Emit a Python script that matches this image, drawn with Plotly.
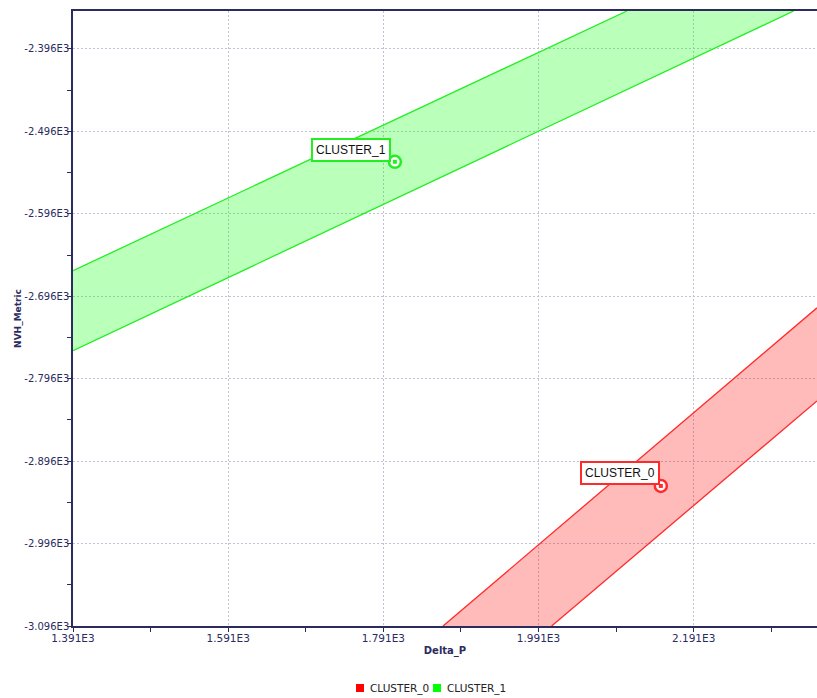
import plotly.graph_objects as go

# ---- data ----
clusters = ["CLUSTER_0", "CLUSTER_1"]
centroid_x = [2148.7, 1805.9]
centroid_y = [-2926.1, -2532.9]

# visible band region (clipped to the plot) for each cluster
band0_x = [1868, 2350, 2350, 2008]
band0_y = [-3096, -2710, -2823, -3096]
band1_x = [1391, 2105, 2320, 1391]
band1_y = [-2665, -2350, -2350, -2762]

# band edge lines
edge0_upper_x = [1868, 2350]
edge0_upper_y = [-3096, -2710]
edge0_lower_x = [2008, 2350]
edge0_lower_y = [-3096, -2823]
edge1_upper_x = [1391, 2105]
edge1_upper_y = [-2665, -2350]
edge1_lower_x = [1391, 2320]
edge1_lower_y = [-2762, -2350]

x_ticks = [1391, 1591, 1791, 1991, 2191]
x_ticktext = ["1.391E3", "1.591E3", "1.791E3", "1.991E3", "2.191E3"]
x_minor = [1491, 1691, 1891, 2091, 2291]
y_ticks = [-3096, -2996, -2896, -2796, -2696, -2596, -2496, -2396]
y_ticktext = ["-3.096E3", "-2.996E3", "-2.896E3", "-2.796E3", "-2.696E3",
              "-2.596E3", "-2.496E3", "-2.396E3"]
y_minor = [-3046, -2946, -2846, -2746, -2646, -2546, -2446]

x_range = [1391, 2350]
y_range = [-3096, -2350]

line_colors = ["#ff2a2a", "#22ee22"]
fill_colors = ["rgba(255,0,0,0.27)", "rgba(0,255,0,0.27)"]
legend_colors = ["#ff0000", "#00ff00"]
navy = "#2b2b5e"
FONT = "DejaVu Sans, Liberation Sans, Arial"

fig = go.Figure()

bands = [(band0_x, band0_y), (band1_x, band1_y)]
edges = [
    [(edge0_upper_x, edge0_upper_y), (edge0_lower_x, edge0_lower_y)],
    [(edge1_upper_x, edge1_upper_y), (edge1_lower_x, edge1_lower_y)],
]

for i, name in enumerate(clusters):
    bx, by = bands[i]
    fig.add_trace(go.Scatter(x=bx + [bx[0]], y=by + [by[0]], mode="lines",
                             fill="toself", fillcolor=fill_colors[i],
                             line=dict(width=0, color=fill_colors[i]),
                             showlegend=False, hoverinfo="skip", name=name))
    for ex, ey in edges[i]:
        fig.add_trace(go.Scatter(x=ex, y=ey, mode="lines",
                                 line=dict(color=line_colors[i], width=1.3),
                                 showlegend=False, hoverinfo="skip", name=name))

for i, name in enumerate(clusters):
    fig.add_trace(go.Scatter(x=[centroid_x[i]], y=[centroid_y[i]], mode="markers",
                             marker=dict(symbol="circle", size=12, color="white",
                                         line=dict(color=line_colors[i], width=2.5)),
                             showlegend=False, cliponaxis=False, name=name))
    fig.add_trace(go.Scatter(x=[centroid_x[i]], y=[centroid_y[i]], mode="markers",
                             marker=dict(symbol="square", size=4, color=line_colors[i]),
                             showlegend=False, cliponaxis=False, name=name))

label_shifts = [(-41, 13), (-44, 12)]
for i, name in enumerate(clusters):
    fig.add_annotation(x=centroid_x[i], y=centroid_y[i], text=name, showarrow=False,
                       xshift=label_shifts[i][0], yshift=label_shifts[i][1],
                       font=dict(family="Liberation Sans, Arial", size=12, color="#111111"),
                       bgcolor="white", bordercolor=line_colors[i], borderwidth=2,
                       borderpad=3)

# legend drawn below the plot (square swatch + text)
legend_x = [356, 433]   # px of swatch left edge
for i, name in enumerate(clusters):
    fig.add_shape(type="rect", xref="paper", yref="paper",
                  x0=(legend_x[i] - 73) / 744, x1=(legend_x[i] + 8 - 73) / 744,
                  y0=-(684 - 626) / 615, y1=-(692 - 626) / 615,
                  fillcolor=legend_colors[i], line=dict(width=0))
    fig.add_annotation(xref="paper", yref="paper",
                       x=(legend_x[i] + 12 - 73) / 744, y=-(688 - 626) / 615,
                       xanchor="left", yanchor="middle", showarrow=False, text=name,
                       font=dict(family=FONT, size=10.5, color="#222222"))

axis_font = dict(family=FONT, size=10, color=navy)
grid_color = "#c2c2d6"

fig.update_layout(
    width=817, height=698,
    margin=dict(l=73, r=0, t=11, b=72, autoexpand=False),
    paper_bgcolor="white", plot_bgcolor="white",
    font=axis_font,
    showlegend=False,
    xaxis=dict(range=x_range, tickmode="array", tickvals=x_ticks, ticktext=x_ticktext,
               showline=True, linecolor=navy, linewidth=1.5, mirror=True,
               ticks="outside", ticklen=4, tickcolor=navy, automargin=False,
               showgrid=True, gridcolor=grid_color, griddash="2px,2px", gridwidth=1,
               zeroline=False, tickfont=dict(family=FONT, size=10.5, color=navy),
               ticklabelstandoff=-2,
               minor=dict(tickmode="array", tickvals=x_minor, ticks="outside",
                          ticklen=4, tickcolor=navy, showgrid=False),
               title=dict(text="<b>Delta_P</b>", font=dict(family=FONT, size=10, color=navy),
                          standoff=4)),
    yaxis=dict(range=y_range, tickmode="array", tickvals=y_ticks, ticktext=y_ticktext,
               showline=True, linecolor=navy, linewidth=1.5,
               ticks="outside", ticklen=4, tickcolor=navy, automargin=False,
               showgrid=True, gridcolor=grid_color, griddash="2px,2px", gridwidth=1,
               zeroline=False, tickfont=axis_font, ticklabelstandoff=-4,
               minor=dict(tickmode="array", tickvals=y_minor, ticks="outside",
                          ticklen=4, tickcolor=navy, showgrid=False),
               title=dict(text="<b>NVH_Metric</b>", font=dict(family=FONT, size=9, color=navy),
                          standoff=1)),
)

fig.write_html("out.html", config={"displayModeBar": False},
               post_script="document.body.style.margin='0';")
